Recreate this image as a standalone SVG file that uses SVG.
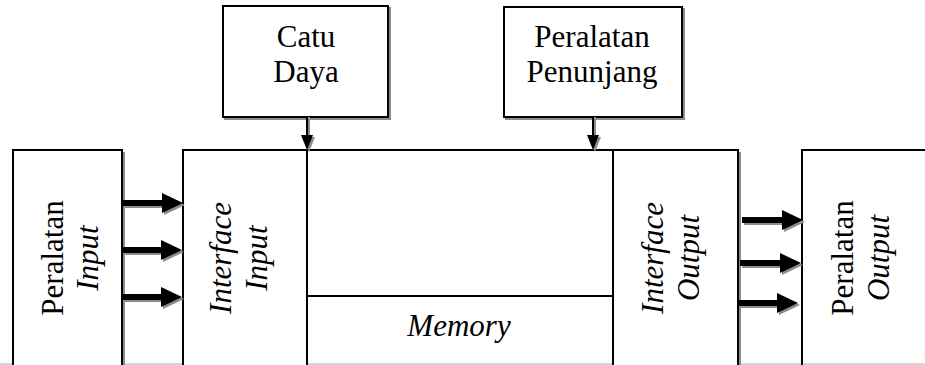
<svg xmlns="http://www.w3.org/2000/svg" width="925" height="365" viewBox="0 0 925 365" font-family="Liberation Serif, Times New Roman, serif">
<defs>
<style>
.box{fill:#fff;stroke:#000;stroke-width:2}
.shd{fill:none;stroke:#8c8c8c;stroke-width:2}
.ln{fill:none;stroke:#000;stroke-width:2}
.t{font-size:31px;fill:#000;text-anchor:middle}
.i{font-style:italic}
.ah{fill:#000}
.as{fill:#8c8c8c}
</style>
<path id="harrow" d="M-61,-3 H-21 V-10 L0,0 L-21,10 V3 H-61 Z"/>
<path id="vhead" d="M-6,-15 L6,-15 L0,0 Z"/>
</defs>
<rect width="925" height="365" fill="#fff"/>
<line x1="0" y1="364" x2="925" y2="364" stroke="#c8c8c8" stroke-width="1.5"/>

<g id="catu-daya">
<rect class="shd" x="225" y="8" width="165" height="111"/>
<rect class="box" x="223" y="6" width="165" height="111"/>
<text class="t" x="306" y="47">Catu</text>
<text class="t" x="306" y="82">Daya</text>
</g>

<g id="peralatan-penunjang">
<rect class="shd" x="506" y="9" width="178" height="110"/>
<rect class="box" x="504" y="7" width="178" height="110"/>
<text class="t" x="592" y="47">Peralatan</text>
<text class="t" x="592" y="82">Penunjang</text>
</g>

<g id="peralatan-input">
<path class="shd" d="M124,152 V366"/>
<path class="box" d="M13,366 V150 H122 V366"/>
<text class="t" transform="translate(63,258) rotate(-90)">Peralatan</text>
<text class="t i" transform="translate(98,258) rotate(-90)">Input</text>
</g>

<g id="interface-input">
<path class="box" d="M183,366 V150 H307 V366"/>
<text class="t i" transform="translate(231,258) rotate(-90)">Interface</text>
<text class="t i" transform="translate(267,258) rotate(-90)">Input</text>
</g>

<g id="cpu-area">
<path class="shd" d="M615,298 V366"/>
<path class="ln" d="M307,150 H613"/>
<path class="ln" d="M307,296 H613"/>
</g>

<g id="memory">
<text class="t i" x="459" y="336">Memory</text>
</g>

<g id="interface-output">
<path class="shd" d="M740,152 V366"/>
<path class="box" d="M613,366 V150 H738 V366"/>
<text class="t i" transform="translate(663,258) rotate(-90)">Interface</text>
<text class="t i" transform="translate(699,258) rotate(-90)">Output</text>
</g>

<g id="peralatan-output">
<path class="box" d="M802,366 V150 H927"/>
<text class="t" transform="translate(853,258) rotate(-90)">Peralatan</text>
<text class="t i" transform="translate(889,258) rotate(-90)">Output</text>
</g>

<g id="connectors">
<line x1="309" y1="117" x2="309" y2="137" stroke="#8c8c8c" stroke-width="2"/>
<use href="#vhead" class="as" x="309" y="152"/>
<line x1="307" y1="117" x2="307" y2="137" stroke="#000" stroke-width="2"/>
<use href="#vhead" class="ah" x="307" y="150"/>

<line x1="595" y1="117" x2="595" y2="137" stroke="#8c8c8c" stroke-width="2"/>
<use href="#vhead" class="as" x="595" y="152"/>
<line x1="593" y1="117" x2="593" y2="137" stroke="#000" stroke-width="2"/>
<use href="#vhead" class="ah" x="593" y="150"/>

<use href="#harrow" class="as" x="185" y="205"/>
<use href="#harrow" class="ah" x="183" y="203"/>
<use href="#harrow" class="as" x="184" y="252"/>
<use href="#harrow" class="ah" x="182" y="250"/>
<use href="#harrow" class="as" x="184" y="299"/>
<use href="#harrow" class="ah" x="182" y="297"/>

<use href="#harrow" class="as" x="805" y="222"/>
<use href="#harrow" class="ah" x="803" y="220"/>
<use href="#harrow" class="as" x="803" y="265"/>
<use href="#harrow" class="ah" x="801" y="263"/>
<use href="#harrow" class="as" x="800" y="305"/>
<use href="#harrow" class="ah" x="798" y="303"/>
</g>
</svg>
